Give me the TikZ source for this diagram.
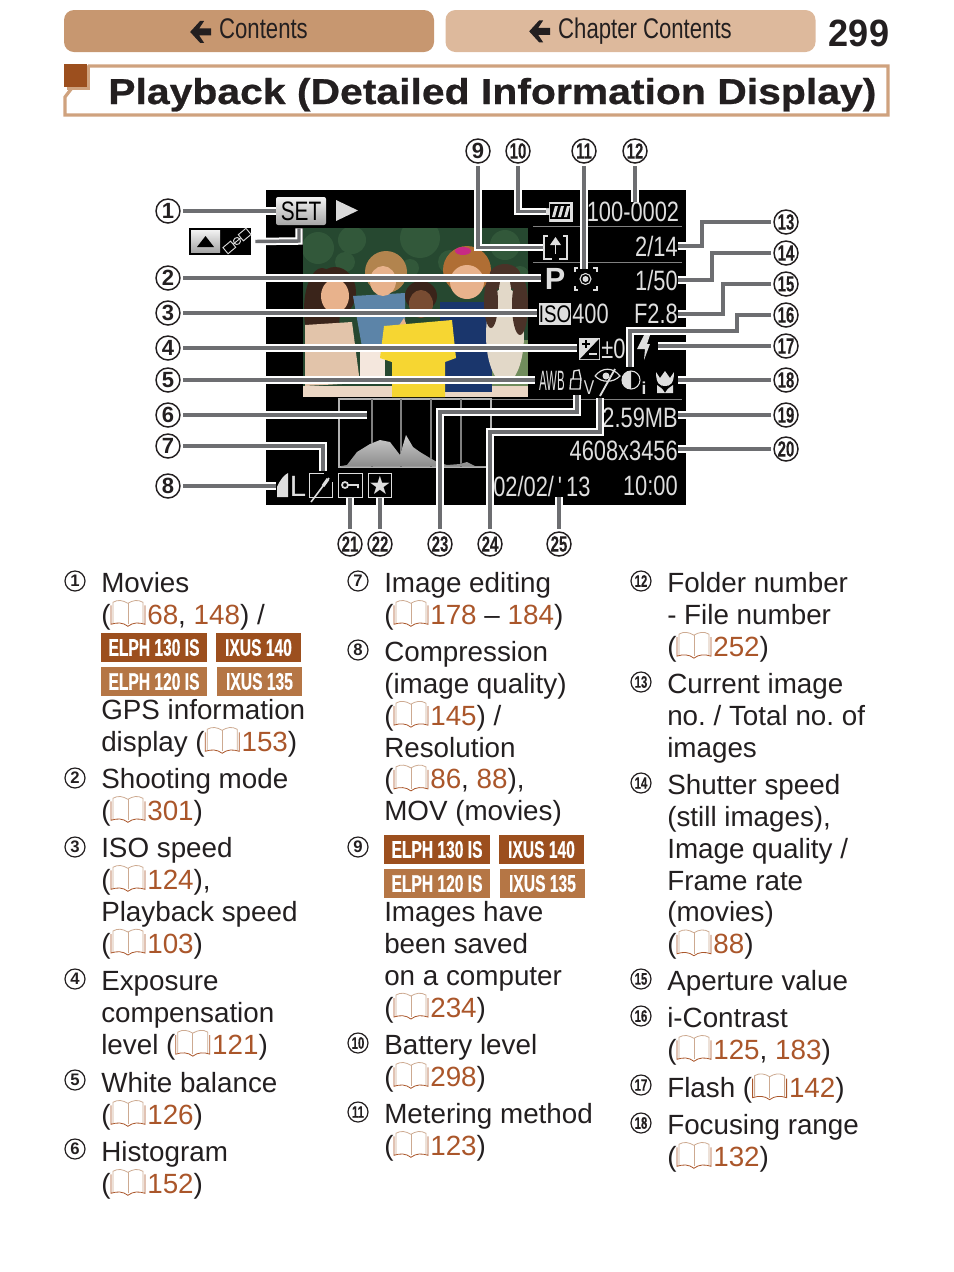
\documentclass[tikz,border=0pt]{standalone}
\usepackage{fontspec}
\usetikzlibrary{calc}
\setmainfont{Liberation Sans}
\frenchspacing
\newfontfamily\narrowfont[FakeStretch=.78]{Liberation Sans}
\newfontfamily\tinyfont[FakeStretch=.68,BoldFeatures={FakeBold=.15}]{Liberation Sans}
\newfontfamily\badgefont[FakeStretch=.65,BoldFeatures={FakeBold=.6}]{Liberation Sans}
\newfontfamily\titlefont[FakeStretch=1.136,BoldFeatures={FakeBold=.7}]{Liberation Sans}
\newfontfamily\pagefont[FakeStretch=.95]{Liberation Sans}
\definecolor{InkBlack}{RGB}{35,31,32}
\definecolor{TabDark}{RGB}{199,151,112}
\definecolor{TabLight}{RGB}{221,185,156}
\definecolor{FrameTan}{RGB}{207,162,126}
\definecolor{RustDark}{RGB}{156,79,30}
\definecolor{RustLight}{RGB}{181,118,69}
\definecolor{LinkBrown}{RGB}{170,86,42}
\definecolor{BookTan}{RGB}{205,170,145}
\definecolor{LeadGray}{RGB}{109,110,113}
\definecolor{ScreenText}{RGB}{222,222,222}
\definecolor{LeafDark}{RGB}{38,72,48}
\definecolor{LeafMid}{RGB}{50,88,58}
\definecolor{GrassMid}{RGB}{112,140,92}
\definecolor{SkinTone}{RGB}{232,178,140}
\definecolor{SkinDark}{RGB}{120,76,50}
\definecolor{HairDark}{RGB}{58,36,26}
\definecolor{HairBlond}{RGB}{178,132,78}
\definecolor{HairAuburn}{RGB}{176,110,52}
\definecolor{ShirtBlue}{RGB}{92,132,168}
\definecolor{ShirtNavy}{RGB}{26,54,108}
\definecolor{ShirtYellow}{RGB}{246,214,50}
\definecolor{DressBeige}{RGB}{226,196,170}
\definecolor{FurWhite}{RGB}{226,216,200}
\definecolor{FurBrown}{RGB}{74,50,40}
\newcommand{\lk}[1]{\textcolor{LinkBrown}{#1}}
\newcommand{\bk}{\tikz[x=.75pt,y=-.75pt,baseline={(0,25)},line width=.6pt]{
  \draw[BookTan] (3,24) -- (3,3) .. controls (8,0) and (13,1) .. (18,4) .. controls (23,1) and (28,0) .. (33,3) -- (33,24);
  \draw[BookTan] (18,4) -- (18,25);
  \draw[LinkBrown] (1,6) -- (1,25) .. controls (7,23) and (13,23) .. (18,27) .. controls (23,23) and (29,23) .. (35,25) -- (35,6);
}\hspace{1.5pt}}
\newcommand{\backarrow}{\tikz[x=.75pt,y=-.75pt,baseline={(0,17)},sharp corners]{
  \fill[InkBlack] (0,10) -- (10,-1) -- (14,-1) -- (9,6.5) -- (21,6.5) -- (21,13.5) -- (9,13.5) -- (14,21) -- (10,21) -- cycle;
}}
\newcommand{\numtext}[1]{\ifnum#1>9 {\tinyfont\bfseries #1}\else \bfseries #1\fi}
\tikzset{
  every node/.style={inner sep=0pt, text=InkBlack},
  tab/.style={rounded corners=7.5pt, minimum width=277.5pt, minimum height=31.5pt, font=\narrowfont\fontsize{21.3}{24}\selectfont},
  callout/.style={circle, draw=InkBlack, fill=white, line width=1.1pt, minimum size=18pt, outer sep=2.6pt, font=\fontsize{16.5}{16}\selectfont},
  listno/.style={circle, draw=InkBlack, line width=.9pt, minimum size=15pt, font=\fontsize{12.5}{13}\selectfont},
  lead/.style={draw=LeadGray, line width=2.6pt, preaction={draw=white, line width=5.6pt}},
  entry/.style={anchor=north west, yshift=.75pt, align=left, font=\fontsize{20.85}{23.9}\selectfont, execute at begin node={\rule{0pt}{15pt}}},
  badge/.style={minimum height=21.75pt, text=white, font=\badgefont\bfseries\fontsize{18}{18}\selectfont},
  scr/.style={text=ScreenText, font=\narrowfont\fontsize{21}{24}\selectfont},
  icon/.style={draw=ScreenText, line width=.8pt, minimum width=17.5pt, minimum height=17.5pt},
  blank/.style={minimum width=#1, minimum height=15pt},
}
\begin{document}
\begin{tikzpicture}[x=.75pt, y=-.75pt]
  \useasboundingbox (0,0) rectangle (954,1272);

  \node[tab, fill=TabDark] (tabmain) at (249,31) {\raisebox{-1.8pt}{\backarrow\hspace{6pt}Contents}};
  \node[tab, fill=TabLight] (tabchap) at (630.5,31) {\raisebox{-1.8pt}{\backarrow\hspace{6pt}Chapter Contents}};
  \node[font=\pagefont\bfseries\fontsize{28.5}{30}\selectfont] (pageno) at (859,33) {299};
  \draw[FrameTan, line width=2.4pt] (89,66) -- (65,97) -- (65,115) -- (888,115) -- (888,66) -- cycle;
  \fill[FrameTan] (67,67) rectangle (90,90);
  \fill[RustDark] (64,64) rectangle (87,87);
  \node[anchor=base west, font=\titlefont\bfseries\fontsize{27}{30}\selectfont] (title) at (108,104) {Playback (Detailed Information Display)};

  \fill[black] (266,190) rectangle (686,505);
  \begin{scope}
    \clip (303,228) rectangle (528,397);
    \fill[LeafDark] (303,228) rectangle (528,397);
    \foreach \x/\y/\r in {318/248/16,352/240/14,420/238/20,450/262/12,505/245/15,345/262/10,410/268/9,520/275/9} {
      \fill[LeafMid] (\x,\y) circle (\r);
    }
    \fill[GrassMid] (488,340) rectangle (528,397);
    \fill[DressBeige!70!white] (303,386) rectangle (528,397);
    \fill[HairDark] (322,310) ellipse (18 and 42);
    \fill[HairDark] (335,292) ellipse (21 and 25);
    \fill[DressBeige] (305,325) -- (352,322) -- (360,383) -- (305,386) -- cycle;
    \fill[SkinTone] (335,296) ellipse (14 and 17);
    \fill[ShirtBlue] (353,296) -- (405,293) -- (405,347) -- (380,352) -- (362,347) -- cycle;
    \fill[HairBlond] (386,272) ellipse (21 and 21);
    \fill[SkinTone] (383,281) ellipse (13 and 15);
    \fill[DressBeige!40!white] (360,347) rectangle (385,384);
    \fill[SkinTone] (392,336) -- (404,318) -- (410,335) -- (398,352) -- cycle;
    \fill[ShirtNavy] (440,302) rectangle (492,392);
    \fill[HairAuburn] (467,270) ellipse (24 and 24);
    \fill[SkinTone] (467,282) ellipse (17 and 17);
    \fill[magenta!80!black] (463,251) ellipse (8 and 4);
    \fill[HairDark] (421,296) ellipse (16 and 15);
    \fill[SkinDark] (421,304) ellipse (12 and 14);
    \fill[ShirtYellow] (384,326) -- (452,320) -- (456,358) -- (445,362) -- (445,397) -- (392,397) -- (392,362) -- (380,358) -- cycle;
    \fill[FurWhite] (505,335) ellipse (19 and 48);
    \fill[FurBrown] (491,302) ellipse (7 and 26);
    \fill[FurBrown] (520,305) ellipse (8 and 30);
    \fill[FurBrown] (505,277) ellipse (16 and 13);
    \fill[FurWhite] (505,291) ellipse (6 and 15);
  \end{scope}

  \draw[gray, line width=.6pt] (533,226) -- (682,226);
  \draw[gray, line width=.6pt] (533,262) -- (682,262);
  \draw[gray, line width=.6pt] (491,399) -- (682,399);

  \node[minimum width=37.5pt, minimum height=21pt, rounded corners=1.5pt, top color=white!90!gray, bottom color=gray!70!white, font=\narrowfont\fontsize{20}{20}\selectfont, text=black] (setkey) at (301,211) {SET};
  \fill[gray!30!white] (336,200) -- (358,210.5) -- (336,221) -- cycle;
  \node[fill=black, minimum width=46.5pt, minimum height=20.25pt] (gpsinset) at (220,241.5) {};
  \node[minimum width=21.75pt, minimum height=16.5pt, top color=white!90!gray, bottom color=gray!70!white] (gpskey) at (205.5,241) {};
  \fill[black] (197,247) -- (205.5,236) -- (214,247) -- cycle;
  \draw[gray!30!white, line width=.7pt, rotate around={40:(237,241)}] (222,237) rectangle (232,245) (242,237) rectangle (252,245) (232,241) -- (242,241) (237,241) circle (3.5);
  \coordinate (gpsbend) at (299,241);

  \node[fill=gray!25!white, minimum width=20pt, minimum height=15pt] (battery) at (559.5,211.5) {};
  \fill[black] (546,201) rectangle (549,208) (546,215) rectangle (549,222);
  \fill[black] (550,204) rectangle (570,219);
  \foreach \x in {555,561,567} {
    \fill[gray!25!white] (\x,206) -- (\x+3,206) -- (\x,217) -- (\x-3,217) -- cycle;
  }
  \node[scr] (folder) at (633,212) {100-0002};
  \node[icon, line width=1.1pt, minimum height=17pt] (upload) at (555.5,247.5) {};
  \fill[black] (548,232) rectangle (563,241);
  \draw[ScreenText, line width=1.4pt] (555.5,254) -- (555.5,242);
  \fill[ScreenText] (550,245) -- (555.5,237) -- (561,245) -- cycle;
  \fill[black] (552,258) rectangle (559,262);
  \node[scr, anchor=east] (frameno) at (678,246) {2/14};
  \node[scr, outer sep=2.5pt, font=\bfseries\fontsize{23}{24}\selectfont] (modep) at (555,279) {P};
  \node[blank=17pt] (meter) at (584,279) {};
  \draw[ScreenText, line width=.8pt] (575,272) |- (578,268) (593,268) -| (597,272) (597,286) |- (593,290) (578,290) -| (575,286);
  \draw[ScreenText, line width=.8pt] (585.5,279) circle (5.5);
  \fill[ScreenText] (585.5,279) circle (3);
  \node[scr, anchor=east] (shutter) at (678,280) {1/50};
  \node[fill=ScreenText, outer sep=1.5pt, minimum width=22.5pt, minimum height=16.5pt, font=\narrowfont\fontsize{18}{18}\selectfont, text=black] (isobox) at (555,314) {ISO};
  \node[scr, anchor=west] (isoval) at (572,314) {400};
  \node[scr, anchor=east] (aperture) at (678,314) {F2.8};
  \node[fill=ScreenText, outer sep=1.5pt, minimum width=16pt, minimum height=16.5pt] (evbox) at (589.5,349) {};
  \fill[black] (599,339) -- (580,359) -- (599,359) -- cycle;
  \draw[black, line width=1.2pt] (582,344) -- (590,344) (586,340) -- (586,348);
  \draw[ScreenText, line width=1.2pt] (589,354) -- (597,354);
  \node[scr, anchor=west] (evval) at (601,349) {±0};
  \node[minimum width=15pt, minimum height=19pt] (flash) at (648,347) {};
  \fill[ScreenText] (644,335) -- (650,335) -- (647,344) -- (650,344) -- (644,360) -- (645,349) -- (637,349) -- cycle;
  \node[scr, anchor=west, outer sep=3pt, font=\fontsize{21}{21}\selectfont] (wb) at (535,381) {\scalebox{.41}[1]{AWB}};
  \node[minimum width=11pt, minimum height=22.5pt] (lockicon) at (576,380) {};
  \draw[ScreenText, line width=1pt] (570,389) -- (580,389) -- (581,379) -- (571,379) -- cycle (573,379) -- (574,371) -- (579,370) -- (581,379);
  \node[scr, font=\narrowfont\fontsize{15}{15}\selectfont] (vmark) at (589,388) {V};
  \node[minimum width=19pt, minimum height=24pt] (redeye) at (607,382) {};
  \draw[ScreenText, line width=.9pt] (595,376) .. controls (602,367) and (613,367) .. (620,376) .. controls (613,383) and (602,383) .. (595,376);
  \draw[ScreenText, line width=1.4pt] (600,396) -- (615,369);
  \fill[ScreenText] (606,376) circle (3.5);
  \node[minimum width=11pt, minimum height=18pt] (contrast) at (630,379) {};
  \draw[ScreenText, line width=.8pt] (631,380) circle (9);
  \fill[ScreenText] (631,389) arc (90:270:9) -- cycle;
  \node[text=ScreenText, font=\bfseries\fontsize{13}{13}\selectfont] (contrasti) at (644,388) {i};
  \node[minimum width=19.5pt, minimum height=17pt] (flower) at (665,381) {};
  \fill[ScreenText] (656,372) .. controls (656,384) and (660,386) .. (665,386) .. controls (670,386) and (674,384) .. (674,372) -- (670,378) -- (665,371) -- (660,378) -- cycle;
  \fill[ScreenText] (657,385) .. controls (660,387) and (663,389) .. (665,393) .. controls (667,389) and (670,387) .. (673,385) -- (673,393) -- (657,393) -- cycle;
  \node[scr, anchor=east] (filesize) at (678,418) {2.59MB};
  \node[scr, anchor=east] (pixels) at (678,451) {4608x3456};
  \node[scr, anchor=west] (shotdate) at (493,486) {02/02/\hspace{3pt}'\hspace{3pt}13};
  \node[scr, anchor=east] (shottime) at (678,486) {10:00};

  \node[draw=gray!60!white, line width=1pt, minimum width=114pt, minimum height=51pt] (histo) at (415,433) {};
  \foreach \x in {372,401,431,461} {
    \draw[gray, line width=.8pt] (\x,399) -- (\x,467);
  }
  \fill[top color=gray!40!white, bottom color=gray!90!white, shading=axis] (341,466) -- (347,465) -- (357,452) -- (370,444) -- (380,440) -- (390,442) -- (400,455) -- (406,435) -- (413,447) -- (420,452) -- (430,458) -- (437,462) -- (447,465) -- (460,464) -- (467,462) -- (475,466) -- (489,466) -- cycle;
  \coordinate (gridmark) at (367,415);

  \fill[ScreenText] (277,497) -- (277,487) .. controls (280,480) and (284,475) .. (288,473) -- (288,497) -- cycle;
  \node[scr, minimum width=9pt, minimum height=22pt, anchor=west] (qualityl) at (276,485.5) {};
  \node[scr, font=\fontsize{22}{22}\selectfont, text=ScreenText] (sizel) at (298,486) {L};
  \node[icon] (editbox) at (321,485.5) {};
  \fill[black] (324,470) rectangle (336,482);
  \draw[ScreenText, line width=1.2pt] (311,502) -- (329,478);
  \draw[ScreenText, line width=2.4pt] (323,486) -- (328,479);
  \node[icon] (keybox) at (350.5,485.5) {};
  \draw[ScreenText, line width=1.3pt] (345,485) circle (3) (348,485) -- (358,485) -- (358,488);
  \node[icon] (starbox) at (380,485.5) {};
  \node[text=ScreenText, font=\fontsize{19}{19}\selectfont] (starmark) at (380,485) {\fontspec{DejaVu Sans}★};

  \foreach \n/\x/\y in {1/168/211,2/168/278,3/168/313,4/168/348,5/168/380,6/168/415,7/168/446,8/168/486,
    9/478/151,10/518/151,11/584/151,12/635/151,13/786/222,14/786/253,15/786/284,16/786/315,17/786/346,
    18/786/380,19/786/415,20/786/449,21/350/544,22/380/544,23/440/544,24/490/544,25/559/544} {
    \node[callout] (c\n) at (\x,\y) {\numtext{\n}};
  }

  \foreach \n/\t in {1/setkey,2/modep,3/isobox,4/evbox,5/wb,8/qualityl} {
    \draw[lead] (c\n) -- (c\n -| \t.west);
  }
  \foreach \n/\t in {17/flash,18/flower,19/filesize,20/pixels} {
    \draw[lead] (c\n) -- (c\n -| \t.east);
  }
  \draw[lead] (c6) -- (gridmark);
  \foreach \n/\t in {11/meter,12/folder} {
    \draw[lead] (c\n) -- (c\n |- \t.north);
  }
  \foreach \n/\t in {21/keybox,22/starbox,25/shotdate} {
    \draw[lead] (c\n) -- (c\n |- \t.south);
  }
  \draw[lead] ($(gpsinset.east)+(4,0)$) -- (gpsbend) -- ($(gpsbend |- setkey.south)+(0,3)$);
  \draw[lead] (c7) -| ($(editbox.north)+(2,-2)$);
  \draw[lead] (c9) |- (upload.west);
  \draw[lead] (c10) |- (battery.west);
  \foreach \n/\x/\y/\t in {13/702/234/frameno,14/712/265/shutter,15/723/296/aperture} {
    \draw[lead] (c\n) -| (\x,\y) |- (\t.east);
  }
  \draw[lead] (c16) -| (737,331) -| (contrast.north);
  \coordinate (bend23) at (577,412);
  \coordinate (bend24) at (600,432);
  \draw[lead] (c23) |- (bend23) -- (bend23 |- lockicon.south);
  \draw[lead] (c24) |- (bend24) -- (bend24 |- redeye.south);

  \foreach \n/\x/\y in {1/75/581,2/75/778,3/75/847,4/75/979,5/75/1080,6/75/1149,
    7/358/581,8/358/650,9/358/847,10/358/1043,11/358/1112,
    12/641/581,13/641/682,14/641/783,15/641/979,16/641/1016,17/641/1085,18/641/1123} {
    \node[listno] (n\n) at (\x,\y) {\numtext{\n}};
  }

  \node[entry] (movies) at (101,573) {Movies\\(\bk\lk{68}, \lk{148}) /};
  \node[badge, fill=RustDark, minimum width=79.5pt] (elphA) at (154,647.5) {ELPH 130 IS};
  \node[badge, fill=RustDark, minimum width=63.75pt] (ixusA) at (258.5,647.5) {IXUS 140};
  \node[badge, fill=RustLight, minimum width=79.5pt] (elphB) at (154,681.5) {ELPH 120 IS};
  \node[badge, fill=RustLight, minimum width=63.75pt] (ixusB) at (259.5,681.5) {IXUS 135};
  \node[entry] (gps) at (101,700) {GPS information\\display (\bk\lk{153})};
  \node[entry] (shoot) at (101,769) {Shooting mode\\(\bk\lk{301})};
  \node[entry] (iso) at (101,838) {ISO speed\\(\bk\lk{124}),\\Playback speed\\(\bk\lk{103})};
  \node[entry] (expo) at (101,972) {Exposure\\compensation\\level (\bk\lk{121})};
  \node[entry] (white) at (101,1073) {White balance\\(\bk\lk{126})};
  \node[entry] (hist) at (101,1142) {Histogram\\(\bk\lk{152})};

  \node[entry] (edit) at (384,573) {Image editing\\(\bk\lk{178} – \lk{184})};
  \node[entry] (comp) at (384,642) {Compression\\(image quality)\\(\bk\lk{145}) /\\Resolution\\(\bk\lk{86}, \lk{88}),\\MOV (movies)};
  \node[badge, fill=RustDark, minimum width=79.5pt] (elphC) at (437,849.5) {ELPH 130 IS};
  \node[badge, fill=RustDark, minimum width=63.75pt] (ixusC) at (541.5,849.5) {IXUS 140};
  \node[badge, fill=RustLight, minimum width=79.5pt] (elphD) at (437,883.5) {ELPH 120 IS};
  \node[badge, fill=RustLight, minimum width=63.75pt] (ixusD) at (542.5,883.5) {IXUS 135};
  \node[entry] (saved) at (384,902) {Images have\\been saved\\on a computer\\(\bk\lk{234})};
  \node[entry] (batt) at (384,1035) {Battery level\\(\bk\lk{298})};
  \node[entry] (meterText) at (384,1104) {Metering method\\(\bk\lk{123})};

  \node[entry] (fold) at (667,573) {Folder number\\- File number\\(\bk\lk{252})};
  \node[entry] (curr) at (667,674) {Current image\\no. / Total no. of\\images};
  \node[entry] (shut) at (667,775) {Shutter speed\\(still images),\\Image quality /\\Frame rate\\(movies)\\(\bk\lk{88})};
  \node[entry] (aper) at (667,971) {Aperture value};
  \node[entry] (icon) at (667,1008) {i-Contrast\\(\bk\lk{125}, \lk{183})};
  \node[entry] (flashText) at (667,1073) {Flash (\bk\lk{142})};
  \node[entry] (focus) at (667,1115) {Focusing range\\(\bk\lk{132})};
\end{tikzpicture}
\end{document}
